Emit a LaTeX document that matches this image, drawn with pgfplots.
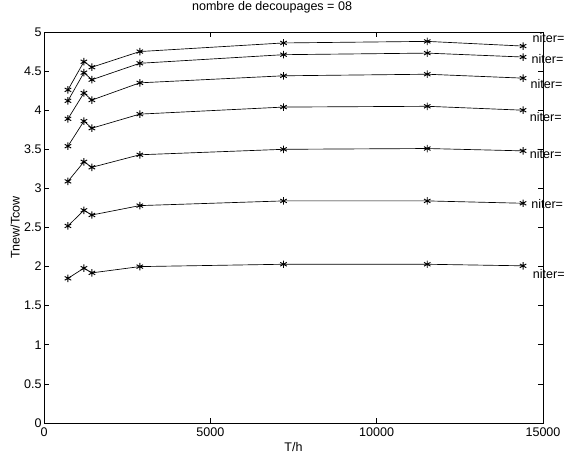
\documentclass[border=0pt]{standalone}
\usepackage{fontspec}
\setmainfont{Liberation Sans}
\usepackage{pgfplots}
\pgfplotsset{compat=1.18}
\pgfplotsset{ser/.style={black, solid, line width=0.5pt, mark=asterisk, mark size=2.8pt, mark options={solid, black, line width=0.7pt}}}
\begin{document}
\fontsize{9.4}{11}\selectfont
\begin{tikzpicture}
\begin{axis}[
  scale only axis, width=374.25pt, height=293.25pt,
  xmin=0, xmax=15000, ymin=0, ymax=5,
  xtick={0,5000,10000,15000},
  ytick={0,0.5,1,1.5,2,2.5,3,3.5,4,4.5,5},
  xtick pos=both, ytick pos=both,
  tick align=inside, major tick length=3.75pt,
  scaled ticks=false,
  /pgf/number format/1000 sep={},
  /pgf/number format/assume math mode=true,
  tick label style={font=\fontsize{9.4}{11}\selectfont},
  yticklabel style={xshift=1.5pt},
  axis line style={line width=0.7pt},
  tick style={line width=0.5pt, black},
  clip=false,
  title={nombre de decoupages = 08},
  title style={at={(axis description cs:0.457,1.043)}, anchor=center, font=\fontsize{9.4}{11}\selectfont},
  xlabel={T/h},
  xlabel style={at={(axis description cs:0.5,-0.061)}, anchor=center, font=\fontsize{9.4}{11}\selectfont},
  ylabel={Tnew/Tcow},
  ylabel style={at={(axis description cs:-0.058,0.5)}, anchor=center, font=\fontsize{9.4}{11}\selectfont},
]
\addplot[ser] coordinates {(720,4.26) (1200,4.62) (1440,4.55) (2880,4.75) (7200,4.86) (11520,4.88) (14400,4.82)};
\addplot[ser] coordinates {(720,4.12) (1200,4.48) (1440,4.39) (2880,4.60) (7200,4.71) (11520,4.73) (14400,4.68)};
\addplot[ser] coordinates {(720,3.89) (1200,4.22) (1440,4.13) (2880,4.35) (7200,4.44) (11520,4.46) (14400,4.41)};
\addplot[ser] coordinates {(720,3.54) (1200,3.86) (1440,3.77) (2880,3.95) (7200,4.04) (11520,4.05) (14400,4.00)};
\addplot[ser] coordinates {(720,3.09) (1200,3.34) (1440,3.27) (2880,3.43) (7200,3.50) (11520,3.51) (14400,3.48)};
\addplot[ser] coordinates {(720,2.52) (1200,2.72) (1440,2.66) (2880,2.78) (7200,2.84) (11520,2.84) (14400,2.81)};
\addplot[ser] coordinates {(720,1.85) (1200,1.98) (1440,1.92) (2880,2.00) (7200,2.03) (11520,2.03) (14400,2.01)};
\node[anchor=west, inner sep=0pt] at (axis cs:14680,4.92) {niter=};
\node[anchor=west, inner sep=0pt] at (axis cs:14650,4.66) {niter=};
\node[anchor=west, inner sep=0pt] at (axis cs:14620,4.34) {niter=};
\node[anchor=west, inner sep=0pt] at (axis cs:14600,3.91) {niter=};
\node[anchor=west, inner sep=0pt] at (axis cs:14600,3.44) {niter=};
\node[anchor=west, inner sep=0pt] at (axis cs:14640,2.80) {niter=};
\node[anchor=west, inner sep=0pt] at (axis cs:14690,1.91) {niter=};
\coordinate (LL) at (rel axis cs:0,0);
\coordinate (UR) at (rel axis cs:1,1);
\end{axis}
\pgfresetboundingbox
\path[use as bounding box] ([shift={(-33pt,-24.75pt)}]LL) rectangle ([shift={(15.75pt,24pt)}]UR);
\end{tikzpicture}
\end{document}
